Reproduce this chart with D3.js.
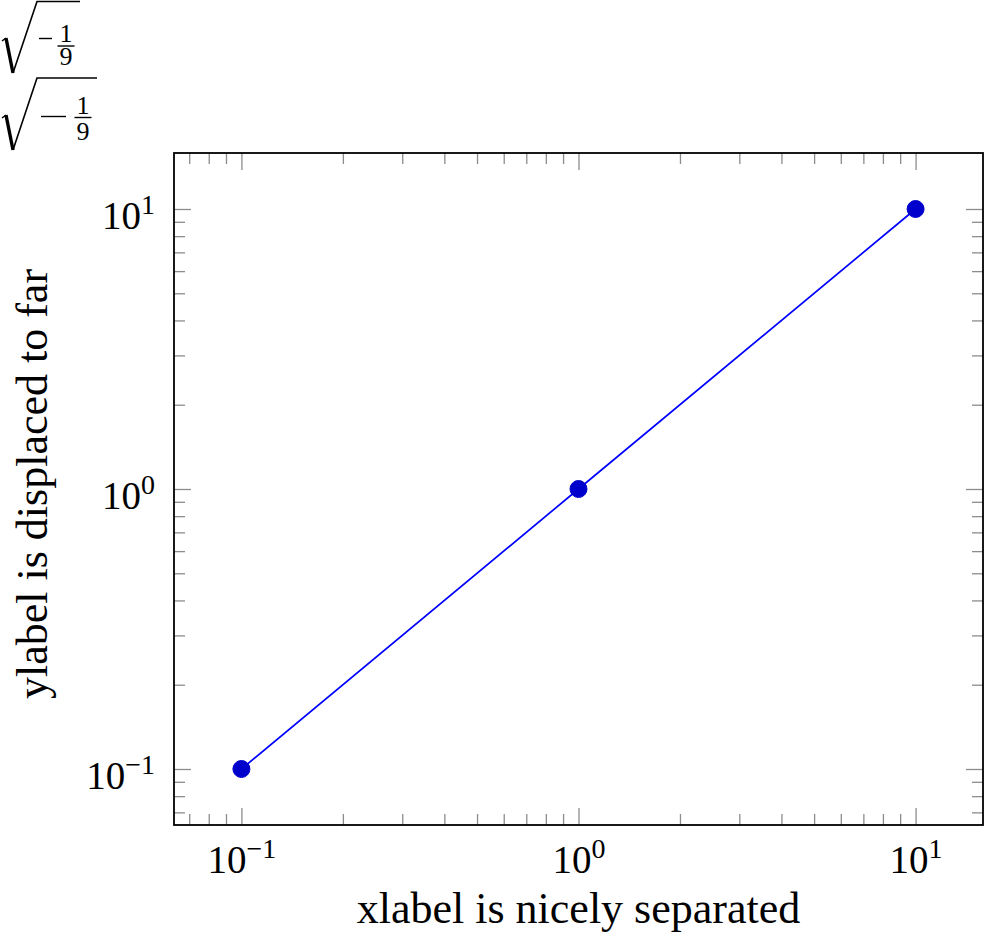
<!DOCTYPE html>
<html>
<head>
<meta charset="utf-8">
<script src="https://cdn.jsdelivr.net/npm/d3@7"></script>
</head>
<body style="margin:0; background:#fff">
<div id="vis"></div>
<script>
// data
let xValues = [0.1, 1, 10]
let yValues = [0.1, 1, 10]
let majorTicks = [0.1, 1, 10]
let tickExponents = ["\u22121", "0", "1"]
let minorTicks = [0.07, 0.08, 0.09, 0.2, 0.3, 0.4, 0.5, 0.6, 0.7, 0.8, 0.9, 2, 3, 4, 5, 6, 7, 8, 9]
let xLabel = "xlabel is nicely separated"
let yLabel = "ylabel is displaced to far"

let W = 984, H = 939
let plotLeft = 174, plotRight = 983, plotTop = 153, plotBottom = 825

let svg = d3.select("#vis")
    .append('svg')
    .attr('width', W)
    .attr('height', H)

let x = d3.scaleLog().domain([Math.pow(10, -1.2), Math.pow(10, 1.2)]).range([plotLeft, plotRight])
let y = d3.scaleLog().domain([Math.pow(10, -1.2), Math.pow(10, 1.2)]).range([plotBottom, plotTop])

// tick marks on all four sides, pointing inwards
function tickAxis(axis, size, vals, tx, ty) {
    let g = svg.append('g')
        .attr('transform', 'translate(' + tx + ',' + ty + ')')
        .call(axis.tickValues(vals).tickSize(size).tickFormat(''))
    g.select('.domain').remove()
    g.selectAll('line').attr('stroke', '#8c8c8c').attr('stroke-width', 1.3)
    return g
}

tickAxis(d3.axisBottom(x), -17, majorTicks, 0, plotBottom)
tickAxis(d3.axisBottom(x), -11, minorTicks, 0, plotBottom)
tickAxis(d3.axisTop(x), -17, majorTicks, 0, plotTop)
tickAxis(d3.axisTop(x), -11, minorTicks, 0, plotTop)
tickAxis(d3.axisLeft(y), -17, majorTicks, plotLeft, 0)
tickAxis(d3.axisLeft(y), -11, minorTicks, plotLeft, 0)
tickAxis(d3.axisRight(y), -17, majorTicks, plotRight, 0)
tickAxis(d3.axisRight(y), -11, minorTicks, plotRight, 0)

// frame
svg.append('rect')
    .attr('x', plotLeft).attr('y', plotTop)
    .attr('width', plotRight - plotLeft).attr('height', plotBottom - plotTop)
    .attr('fill', 'none').attr('stroke', 'black').attr('stroke-width', 1.8)

// tick labels 10^k
function powerLabel(sel, i) {
    sel.text(null)
    sel.append('tspan').attr('font-size', 39).text('10')
    sel.append('tspan').attr('font-size', 28).attr('dy', -15).text(tickExponents[i])
}

let xl = svg.append('g')
    .attr('transform', 'translate(0,' + plotBottom + ')')
    .call(d3.axisBottom(x).tickValues(majorTicks).tickSize(0).tickPadding(0))
xl.select('.domain').remove()
xl.selectAll('text')
    .attr('y', 48).attr('dy', null)
    .each(function (d, i) { powerLabel(d3.select(this), i) })

let yl = svg.append('g')
    .attr('transform', 'translate(' + plotLeft + ',0)')
    .call(d3.axisLeft(y).tickValues(majorTicks).tickSize(0).tickPadding(0))
yl.select('.domain').remove()
yl.selectAll('text')
    .attr('x', -19).attr('dy', 19)
    .each(function (d, i) { powerLabel(d3.select(this), i) })
svg.selectAll('.tick text').attr('fill', '#000')

// axis labels
svg.append('text')
    .attr('x', (plotLeft + plotRight) / 2).attr('y', 923)
    .attr('text-anchor', 'middle').attr('font-size', 44)
    .text(xLabel)

svg.append('text')
    .attr('transform', 'translate(47,484) rotate(-90)')
    .attr('text-anchor', 'middle').attr('font-size', 44)
    .text(yLabel)

// the series
let pts = xValues.map((v, i) => [v, yValues[i]])
svg.append('path')
    .datum(pts)
    .attr('d', d3.line().x(d => x(d[0])).y(d => y(d[1])))
    .attr('fill', 'none').attr('stroke', '#0000ff').attr('stroke-width', 1.7)

svg.selectAll('circle.mark')
    .data(pts)
    .enter().append('circle')
    .attr('class', 'mark')
    .attr('cx', d => x(d[0])).attr('cy', d => y(d[1]))
    .attr('r', 8.5)
    .attr('fill', '#0000cc').attr('stroke', '#0000cc').attr('stroke-width', 1)

// the two square roots in the top left corner
function radical(g, hookY, vertexY, barY, barEnd) {
    g.append('path').attr('d', 'M2,' + hookY + ' L6,' + (hookY - 3))
        .attr('stroke', 'black').attr('stroke-width', 1.5).attr('fill', 'none')
    g.append('path').attr('d', 'M6,' + (hookY - 3) + ' L13,' + vertexY)
        .attr('stroke', 'black').attr('stroke-width', 3.4).attr('fill', 'none')
    g.append('path').attr('d', 'M13,' + vertexY + ' L37,' + barY + ' L' + barEnd + ',' + barY)
        .attr('stroke', 'black').attr('stroke-width', 1.6).attr('fill', 'none').attr('stroke-linejoin', 'miter')
}

// one text element holding numerator and denominator
function fraction(g, cx, numBase, barY, denBase, size) {
    let t = g.append('text').attr('text-anchor', 'middle').attr('font-size', size)
    t.append('tspan').attr('x', cx).attr('y', numBase).text('1')
    t.append('tspan').attr('x', cx).attr('y', denBase).text('9')
    g.append('line').attr('x1', cx - 8.5).attr('x2', cx + 8.5).attr('y1', barY).attr('y2', barY)
        .attr('stroke', 'black').attr('stroke-width', 1.4)
}

let roots = svg.append('g')
radical(roots, 41, 73, 1.5, 80)
roots.append('line').attr('x1', 39).attr('x2', 52).attr('y1', 38.5).attr('y2', 38.5)
    .attr('stroke', 'black').attr('stroke-width', 1.4)
fraction(roots, 66, 42, 46, 65, 26)

radical(roots, 118, 150, 78, 97)
roots.append('line').attr('x1', 41).attr('x2', 66).attr('y1', 116.5).attr('y2', 116.5)
    .attr('stroke', 'black').attr('stroke-width', 1.4)
fraction(roots, 83, 114, 117.5, 140, 26)

// Computer Modern is not available, Liberation Serif is the closest
svg.selectAll('text').style('font-family', "'Liberation Serif'")
</script>
</body>
</html>
